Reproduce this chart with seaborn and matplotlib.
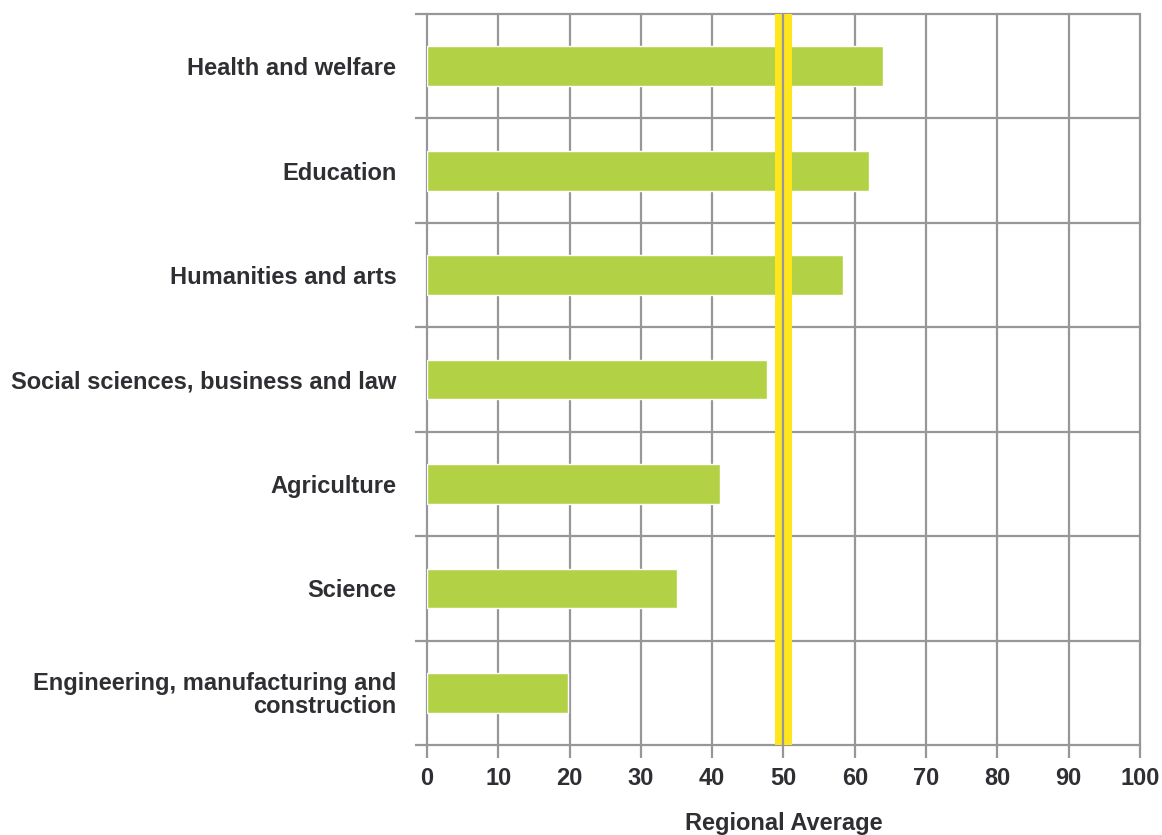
import pandas as pd
import seaborn as sns
import matplotlib.pyplot as plt
from matplotlib.ticker import FixedLocator

categories = ["Health and welfare", "Education", "Humanities and arts",
              "Social sciences, business and law", "Agriculture", "Science",
              "Engineering, manufacturing and\nconstruction"]
values = [64.0, 62.0, 58.3, 47.7, 41.1, 35.1, 19.8]
regional_average = 50
x_ticks = [0, 10, 20, 30, 40, 50, 60, 70, 80, 90, 100]

df = pd.DataFrame({"Field": categories, "Value": values})

sns.set_style("white")
plt.rcParams['font.family'] = ['Liberation Sans', 'DejaVu Sans']

fig = plt.figure(figsize=(11.62, 8.35), dpi=100)
ax = fig.add_axes([0.3675, 0.1078, 0.6135, 0.8754])

grid_col = '#97979a'
text_col = '#2e2e33'
fs = 17

sns.barplot(data=df, x='Value', y='Field', orient='h', color='#b2d145',
            saturation=1, width=0.38, ax=ax, zorder=3)

ax.axvspan(regional_average - 1.2, regional_average + 1.2, color='#ffe61c', zorder=4, lw=0)
ax.axvline(regional_average, color=grid_col, lw=1.6, zorder=5)

ax.set_xlim(0, 100)
ax.set_ylim(len(categories) - 0.5, -0.5)
ax.set_xticks(x_ticks)
ax.set_xticklabels([str(t) for t in x_ticks])
ax.yaxis.set_minor_locator(FixedLocator([i - 0.5 for i in range(len(categories) + 1)]))

ax.grid(True, axis='x', which='major', color=grid_col, lw=1.6, zorder=1)
ax.grid(True, axis='y', which='minor', color=grid_col, lw=1.6, zorder=1)
ax.grid(False, axis='y', which='major')
ax.set_axisbelow(True)

for s in ax.spines.values():
    s.set_visible(False)

ax.tick_params(axis='x', which='major', length=9, width=1.6, color=grid_col,
               labelsize=fs, labelcolor=text_col, pad=7, bottom=True)
ax.tick_params(axis='y', which='major', length=0, labelsize=fs, labelcolor=text_col, pad=22)
ax.tick_params(axis='y', which='minor', length=9, width=1.6, color=grid_col, left=True)
for t in ax.xaxis.get_major_ticks() + ax.yaxis.get_minor_ticks():
    t.gridline.set_clip_on(False)
for lab in ax.get_xticklabels() + ax.get_yticklabels():
    lab.set_fontweight('bold')
for lab in ax.get_yticklabels():
    lab.set_horizontalalignment('right')
    lab.set_multialignment('right')
    lab.set_linespacing(1.0)

ax.set_ylabel("")
ax.set_xlabel("Regional Average", fontsize=fs, fontweight='bold', color=text_col, labelpad=16)

plt.savefig('out.png', dpi=100)
plt.close()
